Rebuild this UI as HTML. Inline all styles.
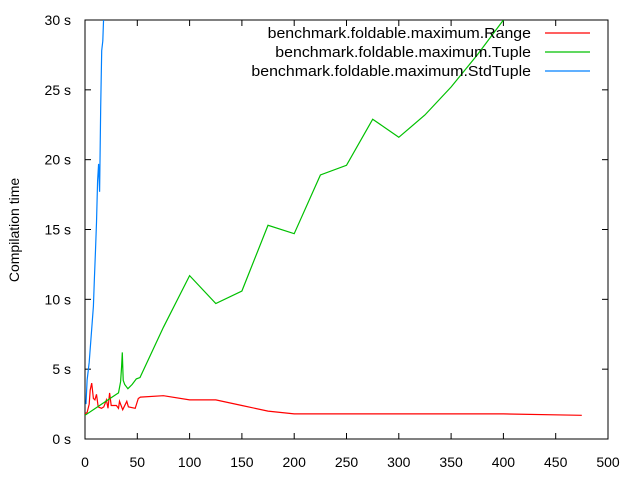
<!DOCTYPE html>
<html><head><meta charset="utf-8"><style>
body{margin:0;background:#fff}
svg{display:block;font-family:"Liberation Sans",sans-serif}
</style></head><body>
<svg id="chart" width="640" height="480" viewBox="0 0 640 480" xmlns="http://www.w3.org/2000/svg">
<rect width="640" height="480" fill="#fff"/>
<g id="axes"></g>
<g id="series"></g>
<g id="legend"></g>
</svg>
<script>
const xTicks=[0,50,100,150,200,250,300,350,400,450,500];
const yTicks=[0,5,10,15,20,25,30];
const yTickLabels=["0 s","5 s","10 s","15 s","20 s","25 s","30 s"];
const seriesNames=["benchmark.foldable.maximum.Range","benchmark.foldable.maximum.Tuple","benchmark.foldable.maximum.StdTuple"];
const rangeX=[0,2,4,5,6.4,8,9.5,11,12.6,15.8,18,20.5,22,23.5,25,30,32,33,36,40,41.5,48,51,53,75,100,125,150,175,200,250,300,350,400,475];
const rangeY=[1.8,1.9,2.5,3.5,4.0,2.9,2.8,3.2,2.3,2.2,2.3,2.8,2.2,3.3,2.4,2.4,2.2,2.7,2.1,2.7,2.3,2.2,2.9,3.0,3.1,2.8,2.8,2.4,2.0,1.8,1.8,1.8,1.8,1.8,1.7];
const tupleX=[0,10,20,30,32,34,35,35.7,36.5,38,41,45,49,52.6,75,100,125,150,175,200,225,250,275,300,325,350,375,400];
const tupleY=[1.7,2.2,2.7,3.2,3.3,4.1,5.2,6.2,4.2,3.9,3.6,3.9,4.3,4.4,8.0,11.7,9.7,10.6,15.3,14.7,18.9,19.6,22.9,21.6,23.2,25.2,27.5,30.0];
const stdX=[1,2,4,6,8,9,10,11,12,13,14,15,16,17,18];
const stdY=[2.5,4.2,5.5,7.5,9.5,11.5,13.5,15.5,18.5,19.7,17.7,23.8,27.8,28.5,30.5];
const colors=["#ff0000","#00c000","#0080ff"];

const L=85,R=608,T=20,B=439;
const NS="http://www.w3.org/2000/svg";
const xs=v=>L+(v-0)/(500)*(R-L);
const ys=v=>B-(v/30)*(B-T);
function mk(tag,attrs,parent){const e=document.createElementNS(NS,tag);for(const k in attrs)e.setAttribute(k,attrs[k]);parent.appendChild(e);return e;}
const axes=document.getElementById('axes'),series=document.getElementById('series'),legend=document.getElementById('legend');

const clip=mk('clipPath',{id:'pc'},axes);mk('rect',{x:L,y:T,width:R-L,height:B-T},clip);

xTicks.forEach((t,i)=>{
  const x=xs(t);
  const a=mk('line',{x1:x,x2:x,y1:B,y2:B-6,stroke:'#000'},axes);
  
  
  const b=mk('line',{x1:x,x2:x,y1:T,y2:T+6,stroke:'#000'},axes);
  
  
  const tx=mk('text',{x:x,y:467,'text-anchor':'middle','font-size':14},axes);
  tx.textContent=t;
  
  
});
yTicks.forEach((t,i)=>{
  const y=ys(t);
  const a=mk('line',{x1:L,x2:L+6,y1:y,y2:y,stroke:'#000'},axes);
  
  
  const b=mk('line',{x1:R,x2:R-6,y1:y,y2:y,stroke:'#000'},axes);
  
  
  const tx=mk('text',{x:71,y:y+5,'text-anchor':'end','font-size':14},axes);
  tx.textContent=yTickLabels[i];
  
  
});
const frame=mk('rect',{x:L,y:T,width:R-L,height:B-T,fill:'none',stroke:'#000'},axes);


const yt=mk('text',{x:19,y:230,'text-anchor':'middle','font-size':14,transform:'rotate(-90 19 230)'},axes);
yt.textContent='Compilation time';



const data=[[rangeX,rangeY],[tupleX,tupleY],[stdX,stdY]];
const snames=['series-range','series-tuple','series-stdtuple'];
data.forEach((d,i)=>{
  const pts=d[0].map((x,j)=>xs(x).toFixed(1)+','+ys(d[1][j]).toFixed(1)).join(' ');
  const p=mk('polyline',{points:pts,fill:'none',stroke:colors[i],'stroke-width':1.2,'clip-path':'url(#pc)'},series);
  
  
});
const ly=[33,52,71];
seriesNames.forEach((n,i)=>{
  const tx=mk('text',{x:531,y:ly[i]+5,'text-anchor':'end','font-size':15},legend);
  tx.textContent=n;
  
  
  const w=tx.getComputedTextLength();
  if(w>0){tx.setAttribute('textLength',(w*1.06).toFixed(1));tx.setAttribute('lengthAdjust','spacingAndGlyphs');}
  const ln=mk('line',{x1:545,x2:590,y1:ly[i],y2:ly[i],stroke:colors[i],'stroke-width':1.2},legend);
  
  
});
</script>
</body></html>
